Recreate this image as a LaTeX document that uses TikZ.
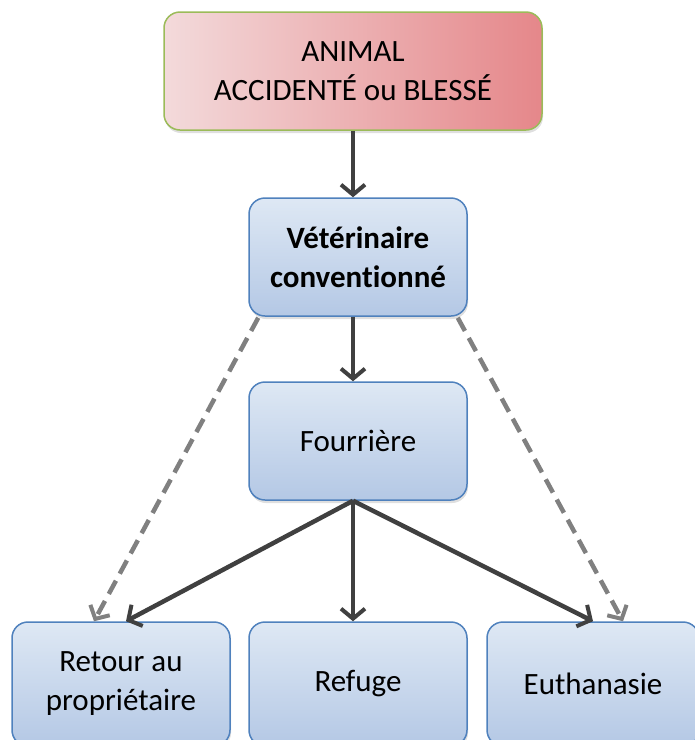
\documentclass[tikz,border=0pt]{standalone}
\usepackage{fontspec}
\setmainfont{Carlito}[Ligatures=NoCommon]
\usetikzlibrary{arrows.meta,shadows}
\definecolor{boxline}{HTML}{4F81BD}
\definecolor{boxtop}{HTML}{DEE8F4}
\definecolor{boxbottom}{HTML}{B4C8E5}
\definecolor{redline}{HTML}{9BBB59}
\definecolor{redleft}{HTML}{F3DADB}
\definecolor{redright}{HTML}{E5878A}
\definecolor{arrowdark}{HTML}{404040}
\definecolor{arrowgrey}{HTML}{808080}

\tikzset{
	% blue boxes of the chart
	stepbox/.style={draw=boxline, line width=1.5pt, rounded corners=16pt,
		top color=boxtop, bottom color=boxbottom, align=center,
		minimum width=218pt, minimum height=118pt, inner sep=0pt,
		font=\fontsize{31}{39}\selectfont,
		drop shadow={opacity=0.25, shadow xshift=1pt, shadow yshift=-3pt}},
	% red start box
	startbox/.style={stepbox, draw=redline, left color=redleft, right color=redright,
		minimum width=378pt},
	flow/.style={draw=arrowdark, line width=4.5pt,
		-{Straight Barb[length=10pt, width=24pt, line width=4pt]}},
	maybe/.style={flow, draw=arrowgrey, line width=4.5pt,
		dash pattern=on 15pt off 8pt,
		-{Straight Barb[length=10pt, width=22pt, line width=4pt]}}
}

\begin{document}
\begin{tikzpicture}[x=1pt, y=-1pt]
	\useasboundingbox (0,0) rectangle (695,740);
	% boxes
	\node[startbox] (animal) at (353,71) {ANIMAL\\ACCIDENTÉ ou BLESSÉ};
	\node[stepbox, font=\fontsize{31}{39}\selectfont\bfseries] (veto) at (358,257)
		{Vétérinaire\\conventionné};
	\node[stepbox] (fourriere) at (358,441) {Fourrière};
	\node[stepbox, minimum height=124pt] (retour) at (121,684) {Retour au\\propriétaire};
	\node[stepbox, minimum height=124pt] (refuge) at (358,684) {Refuge};
	\node[stepbox, minimum width=212pt, minimum height=124pt] (euthanasie) at (593,684) {Euthanasie};
	% solid arrows
	\draw[flow] (animal.south -| 353,0) -- (veto.north -| 353,0);
	\draw[flow] (veto.south -| 353,0) -- (fourriere.north -| 353,0);
	\draw[flow] (fourriere.south -| 353,0) -- (refuge.north -| 353,0);
	\draw[flow] (fourriere.south -| 353,0) -- (retour.north -| 126,0);
	\draw[flow] (fourriere.south -| 353,0) -- (euthanasie.north -| 593,0);
	% dashed arrows
	\draw[maybe] (veto.south west) ++(10,1) -- (retour.north -| 94,0);
	\draw[maybe] (veto.south east) ++(-10,1) -- (euthanasie.north -| 623,0);
\end{tikzpicture}
\end{document}
